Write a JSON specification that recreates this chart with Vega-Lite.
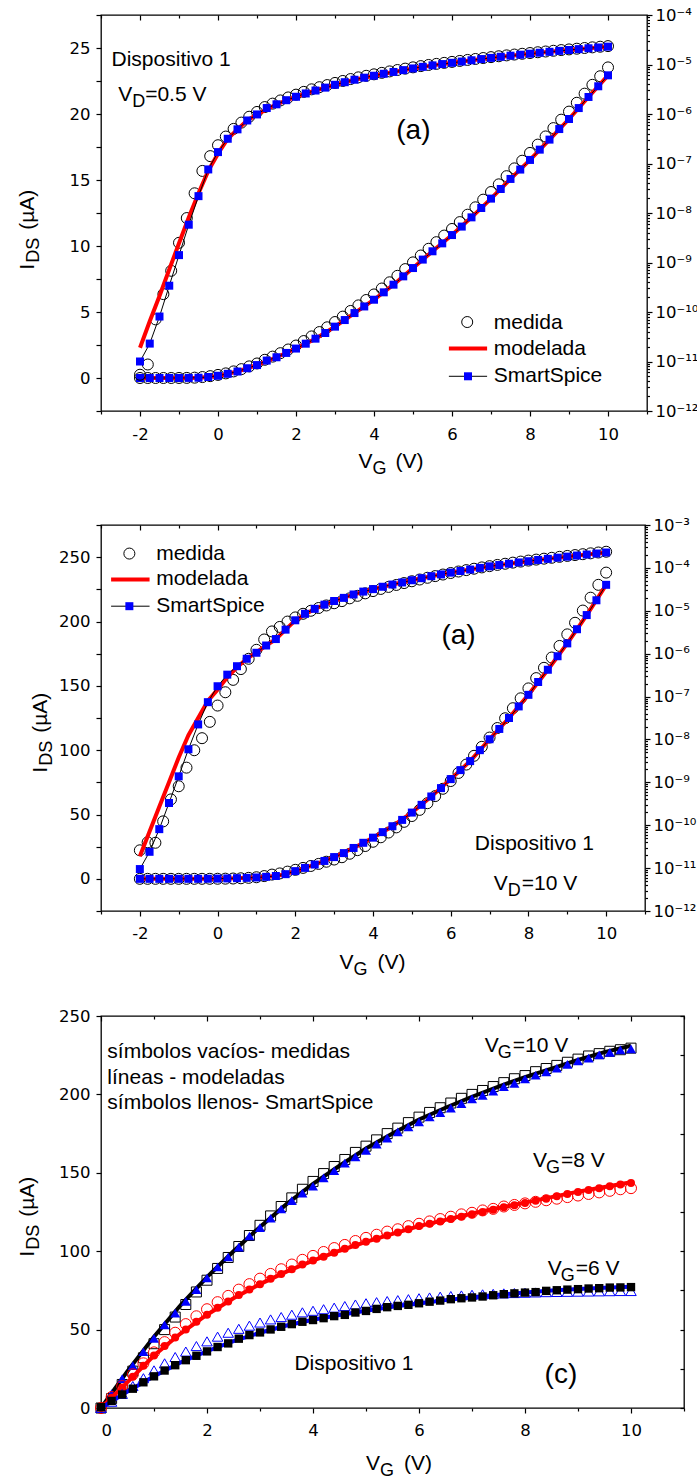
{
"$schema": "https://vega.github.io/schema/vega-lite/v6.json",
"padding": 0,
"config": {
  "view": {"stroke": "#000", "strokeWidth": 1.3},
  "axis": {"domain": false, "grid": false, "labelFont": "DejaVu Sans", "labelFontSize": 16.5, "labelColor": "#000", "tickColor": "#000", "tickWidth": 1.2, "labelOverlap": false},
  "text": {"font": "Liberation Sans", "color": "#000"}
},
"datasets": {
"p1_ss": [{"V":-2,"I":0.00001},{"V":-1.75,"I":0.000023},{"V":-1.5,"I":0.000081},{"V":-1.25,"I":0.00034},{"V":-1,"I":0.00141},{"V":-0.75,"I":0.0058},{"V":-0.5,"I":0.0219},{"V":-0.25,"I":0.0759},{"V":0,"I":0.17},{"V":0.25,"I":0.316},{"V":0.5,"I":0.49},{"V":0.75,"I":0.74},{"V":1,"I":0.98},{"V":1.25,"I":1.32},{"V":1.5,"I":1.57},{"V":1.75,"I":1.9},{"V":2,"I":2.23},{"V":2.25,"I":2.6},{"V":2.5,"I":2.98},{"V":2.75,"I":3.41},{"V":3,"I":3.89},{"V":3.25,"I":4.39},{"V":3.5,"I":4.92},{"V":3.75,"I":5.42},{"V":4,"I":5.93},{"V":4.25,"I":6.49},{"V":4.5,"I":7.07},{"V":4.75,"I":7.7},{"V":5,"I":8.33},{"V":5.25,"I":8.97},{"V":5.5,"I":9.6},{"V":5.75,"I":10.2},{"V":6,"I":10.83},{"V":6.25,"I":11.47},{"V":6.5,"I":12.17},{"V":6.75,"I":12.88},{"V":7,"I":13.59},{"V":7.25,"I":14.32},{"V":7.5,"I":15.08},{"V":7.75,"I":15.79},{"V":8,"I":16.52},{"V":8.25,"I":17.3},{"V":8.5,"I":18.06},{"V":8.75,"I":18.86},{"V":9,"I":19.62},{"V":9.25,"I":20.45},{"V":9.5,"I":21.29},{"V":9.75,"I":22.1},{"V":10,"I":22.93}],
"p1_mod": [{"V":-2,"I":0.000019},{"V":-1.75,"I":0.000065},{"V":-1.5,"I":0.00021},{"V":-1.25,"I":0.00072},{"V":-1,"I":0.00245},{"V":-0.75,"I":0.0081},{"V":-0.5,"I":0.025},{"V":-0.25,"I":0.071},{"V":0,"I":0.158},{"V":0.25,"I":0.316},{"V":0.5,"I":0.49},{"V":0.75,"I":0.74},{"V":1,"I":0.98},{"V":1.5,"I":1.57},{"V":2,"I":2.23},{"V":2.5,"I":2.98},{"V":3,"I":3.89},{"V":3.5,"I":4.92},{"V":4,"I":5.93},{"V":4.5,"I":7.07},{"V":5,"I":8.33},{"V":5.5,"I":9.6},{"V":6,"I":10.83},{"V":6.5,"I":12.17},{"V":7,"I":13.59},{"V":7.5,"I":15.08},{"V":8,"I":16.52},{"V":8.5,"I":18.06},{"V":9,"I":19.62},{"V":9.5,"I":21.29},{"V":10,"I":22.93}],
"p1_med": [{"V":-2,"I":0.0000054},{"V":-1.8,"I":0.0000087},{"V":-1.6,"I":0.000071},{"V":-1.4,"I":0.00023},{"V":-1.2,"I":0.00068},{"V":-1,"I":0.0025},{"V":-0.8,"I":0.0079},{"V":-0.6,"I":0.025},{"V":-0.4,"I":0.0708},{"V":-0.2,"I":0.141},{"V":0,"I":0.234},{"V":0.2,"I":0.35},{"V":0.4,"I":0.5},{"V":0.6,"I":0.67},{"V":0.8,"I":0.88},{"V":1,"I":1.1},{"V":1.2,"I":1.38},{"V":1.4,"I":1.62},{"V":1.6,"I":1.88},{"V":1.8,"I":2.16},{"V":2,"I":2.46},{"V":2.2,"I":2.8},{"V":2.4,"I":3.15},{"V":2.6,"I":3.48},{"V":2.8,"I":3.84},{"V":3,"I":4.24},{"V":3.2,"I":4.65},{"V":3.4,"I":5.08},{"V":3.6,"I":5.5},{"V":3.8,"I":5.91},{"V":4,"I":6.33},{"V":4.2,"I":6.78},{"V":4.4,"I":7.25},{"V":4.6,"I":7.74},{"V":4.8,"I":8.25},{"V":5,"I":8.76},{"V":5.2,"I":9.28},{"V":5.4,"I":9.79},{"V":5.6,"I":10.29},{"V":5.8,"I":10.79},{"V":6,"I":11.29},{"V":6.2,"I":11.81},{"V":6.4,"I":12.37},{"V":6.6,"I":12.93},{"V":6.8,"I":13.51},{"V":7,"I":14.09},{"V":7.2,"I":14.67},{"V":7.4,"I":15.29},{"V":7.6,"I":15.88},{"V":7.8,"I":16.46},{"V":8,"I":17.05},{"V":8.2,"I":17.68},{"V":8.4,"I":18.3},{"V":8.6,"I":18.93},{"V":8.8,"I":19.57},{"V":9,"I":20.18},{"V":9.2,"I":20.85},{"V":9.4,"I":21.54},{"V":9.6,"I":22.21},{"V":9.8,"I":22.86},{"V":10,"I":23.53}],
"p2_ss": [{"V":-2,"I":0.0000095},{"V":-1.75,"I":0.000024},{"V":-1.5,"I":0.000081},{"V":-1.25,"I":0.00033},{"V":-1,"I":0.00138},{"V":-0.75,"I":0.0059},{"V":-0.5,"I":0.0224},{"V":-0.25,"I":0.074},{"V":0,"I":0.174},{"V":0.25,"I":0.324},{"V":0.5,"I":0.51},{"V":0.75,"I":0.76},{"V":1,"I":1.05},{"V":1.25,"I":1.55},{"V":1.5,"I":2.19},{"V":1.75,"I":3.63},{"V":2,"I":6},{"V":2.25,"I":8.5},{"V":2.5,"I":11.1},{"V":2.75,"I":13.9},{"V":3,"I":16.9},{"V":3.25,"I":20},{"V":3.5,"I":24},{"V":3.75,"I":28},{"V":4,"I":32},{"V":4.25,"I":36.3},{"V":4.5,"I":40.9},{"V":4.75,"I":45.8},{"V":5,"I":51.5},{"V":5.25,"I":57.5},{"V":5.5,"I":64},{"V":5.75,"I":70.5},{"V":6,"I":77.5},{"V":6.25,"I":84.5},{"V":6.5,"I":91.5},{"V":6.75,"I":100},{"V":7,"I":108.5},{"V":7.25,"I":116.5},{"V":7.5,"I":125},{"V":7.75,"I":134},{"V":8,"I":143},{"V":8.25,"I":153},{"V":8.5,"I":162.5},{"V":8.75,"I":173},{"V":9,"I":183},{"V":9.25,"I":194},{"V":9.5,"I":205},{"V":9.75,"I":216.5},{"V":10,"I":228.5}],
"p2_mod": [{"V":-2,"I":0.000019},{"V":-1.75,"I":0.000071},{"V":-1.5,"I":0.00027},{"V":-1.25,"I":0.001},{"V":-1,"I":0.0038},{"V":-0.75,"I":0.0126},{"V":-0.5,"I":0.0316},{"V":-0.25,"I":0.079},{"V":0,"I":0.145},{"V":0.25,"I":0.28},{"V":0.5,"I":0.48},{"V":0.75,"I":0.76},{"V":1,"I":1.07},{"V":1.25,"I":1.55},{"V":1.5,"I":2.19},{"V":1.75,"I":3.63},{"V":2,"I":6},{"V":2.5,"I":11.1},{"V":3,"I":16.9},{"V":3.5,"I":24},{"V":4,"I":32},{"V":4.5,"I":40.9},{"V":5,"I":51.5},{"V":5.5,"I":64},{"V":6,"I":77.5},{"V":6.5,"I":91.5},{"V":7,"I":108.5},{"V":7.5,"I":125},{"V":8,"I":143},{"V":8.5,"I":162.5},{"V":9,"I":183},{"V":9.5,"I":205},{"V":10,"I":228.5}],
"p2_med": [{"V":-2,"I":0.000026},{"V":-1.8,"I":0.00004},{"V":-1.6,"I":0.000039},{"V":-1.4,"I":0.000123},{"V":-1.2,"I":0.0004},{"V":-1,"I":0.00081},{"V":-0.8,"I":0.0022},{"V":-0.6,"I":0.0056},{"V":-0.4,"I":0.0107},{"V":-0.2,"I":0.0257},{"V":0,"I":0.0617},{"V":0.2,"I":0.126},{"V":0.4,"I":0.245},{"V":0.6,"I":0.437},{"V":0.8,"I":0.76},{"V":1,"I":1.23},{"V":1.2,"I":2.14},{"V":1.4,"I":3.3},{"V":1.6,"I":4.2},{"V":1.8,"I":5.6},{"V":2,"I":7},{"V":2.2,"I":8.5},{"V":2.4,"I":10},{"V":2.6,"I":11.6},{"V":2.8,"I":13.3},{"V":3,"I":15},{"V":3.2,"I":16.8},{"V":3.4,"I":19.5},{"V":3.6,"I":22.3},{"V":3.8,"I":25.5},{"V":4,"I":28.8},{"V":4.2,"I":32.3},{"V":4.4,"I":36},{"V":4.6,"I":40},{"V":4.8,"I":44.3},{"V":5,"I":48.8},{"V":5.2,"I":53.6},{"V":5.4,"I":58.8},{"V":5.6,"I":64.3},{"V":5.8,"I":70},{"V":6,"I":76},{"V":6.2,"I":82.3},{"V":6.4,"I":88.8},{"V":6.6,"I":95.6},{"V":6.8,"I":102.6},{"V":7,"I":109.8},{"V":7.2,"I":117.2},{"V":7.4,"I":124.8},{"V":7.6,"I":132.6},{"V":7.8,"I":140.3},{"V":8,"I":148},{"V":8.2,"I":156},{"V":8.4,"I":164},{"V":8.6,"I":172},{"V":8.8,"I":181},{"V":9,"I":190},{"V":9.2,"I":199},{"V":9.4,"I":208.5},{"V":9.6,"I":218.5},{"V":9.8,"I":228.5},{"V":10,"I":238}],
"p3_ss10": [{"V":0,"I":0.5},{"V":0.2,"I":9.2},{"V":0.4,"I":18.7},{"V":0.6,"I":27},{"V":0.8,"I":35.9},{"V":1,"I":44.4},{"V":1.2,"I":53},{"V":1.4,"I":60.5},{"V":1.6,"I":68},{"V":1.8,"I":75.4},{"V":2,"I":82.9},{"V":2.2,"I":89.9},{"V":2.4,"I":96.3},{"V":2.6,"I":102.6},{"V":2.8,"I":109.7},{"V":3,"I":115},{"V":3.2,"I":121},{"V":3.4,"I":126.9},{"V":3.6,"I":132.3},{"V":3.8,"I":137},{"V":4,"I":141.4},{"V":4.2,"I":146.8},{"V":4.4,"I":151.3},{"V":4.6,"I":156.2},{"V":4.8,"I":160.2},{"V":5,"I":164.2},{"V":5.2,"I":168.3},{"V":5.4,"I":172.1},{"V":5.6,"I":176.1},{"V":5.8,"I":179.2},{"V":6,"I":182.4},{"V":6.2,"I":185.6},{"V":6.4,"I":188.4},{"V":6.6,"I":191.2},{"V":6.8,"I":194.1},{"V":7,"I":197.1},{"V":7.2,"I":199.4},{"V":7.4,"I":202.1},{"V":7.6,"I":205},{"V":7.8,"I":207},{"V":8,"I":209.8},{"V":8.2,"I":212.2},{"V":8.4,"I":214.4},{"V":8.6,"I":216.7},{"V":8.8,"I":219.1},{"V":9,"I":221.3},{"V":9.2,"I":223.1},{"V":9.4,"I":225.2},{"V":9.6,"I":226.8},{"V":9.8,"I":228.4},{"V":10,"I":229}],
"p3_med10": [{"V":0,"I":0},{"V":0.2,"I":6},{"V":0.4,"I":15},{"V":0.6,"I":23.5},{"V":0.8,"I":32},{"V":1,"I":41},{"V":1.2,"I":50},{"V":1.4,"I":58},{"V":1.6,"I":66},{"V":1.8,"I":74},{"V":2,"I":81.5},{"V":2.2,"I":89},{"V":2.4,"I":96},{"V":2.6,"I":103},{"V":2.8,"I":110},{"V":3,"I":116.5},{"V":3.2,"I":122.5},{"V":3.4,"I":128.5},{"V":3.6,"I":134},{"V":3.8,"I":139.5},{"V":4,"I":144.5},{"V":4.2,"I":149.5},{"V":4.4,"I":154},{"V":4.6,"I":158.5},{"V":4.8,"I":163},{"V":5,"I":167},{"V":5.2,"I":171},{"V":5.4,"I":175},{"V":5.6,"I":178.5},{"V":5.8,"I":182},{"V":6,"I":185.5},{"V":6.2,"I":188.5},{"V":6.4,"I":191.5},{"V":6.6,"I":194.5},{"V":6.8,"I":197.5},{"V":7,"I":200},{"V":7.2,"I":202.5},{"V":7.4,"I":205},{"V":7.6,"I":207.5},{"V":7.8,"I":210},{"V":8,"I":212},{"V":8.2,"I":214.5},{"V":8.4,"I":216.5},{"V":8.6,"I":218.5},{"V":8.8,"I":220.5},{"V":9,"I":222.5},{"V":9.2,"I":224.5},{"V":9.4,"I":226},{"V":9.6,"I":227.5},{"V":9.8,"I":228.5},{"V":10,"I":229.5}],
"p3_mod10": [{"V":0,"I":0},{"V":0.5,"I":23.5},{"V":1,"I":45.5},{"V":1.5,"I":65.5},{"V":2,"I":83.5},{"V":2.5,"I":100},{"V":3,"I":115.5},{"V":3.5,"I":130},{"V":4,"I":143},{"V":4.5,"I":154.5},{"V":5,"I":165.5},{"V":5.5,"I":175},{"V":6,"I":184},{"V":6.5,"I":191.5},{"V":7,"I":198.5},{"V":7.5,"I":205},{"V":8,"I":211},{"V":8.5,"I":216.5},{"V":9,"I":222},{"V":9.5,"I":227},{"V":10,"I":231}],
"p3_ss8": [{"V":0,"I":0},{"V":0.2,"I":6.5},{"V":0.4,"I":13},{"V":0.6,"I":20},{"V":0.8,"I":27},{"V":1,"I":33.5},{"V":1.2,"I":39.5},{"V":1.4,"I":45},{"V":1.6,"I":50},{"V":1.8,"I":55},{"V":2,"I":59.5},{"V":2.2,"I":64},{"V":2.4,"I":68},{"V":2.6,"I":72},{"V":2.8,"I":75.5},{"V":3,"I":79},{"V":3.2,"I":82.5},{"V":3.4,"I":85.5},{"V":3.6,"I":88.5},{"V":3.8,"I":91.5},{"V":4,"I":94},{"V":4.2,"I":96.5},{"V":4.4,"I":99},{"V":4.6,"I":101.5},{"V":4.8,"I":104},{"V":5,"I":106},{"V":5.2,"I":108},{"V":5.4,"I":110},{"V":5.6,"I":112},{"V":5.8,"I":114},{"V":6,"I":116},{"V":6.2,"I":117.5},{"V":6.4,"I":119},{"V":6.6,"I":120.5},{"V":6.8,"I":122},{"V":7,"I":123.5},{"V":7.2,"I":125},{"V":7.4,"I":126.5},{"V":7.6,"I":128},{"V":7.8,"I":129.3},{"V":8,"I":130.7},{"V":8.2,"I":132.1},{"V":8.4,"I":133.5},{"V":8.6,"I":135},{"V":8.8,"I":136.4},{"V":9,"I":137.8},{"V":9.2,"I":139},{"V":9.4,"I":140.2},{"V":9.6,"I":141.4},{"V":9.8,"I":142.5},{"V":10,"I":143.5}],
"p3_med8": [{"V":0,"I":0},{"V":0.2,"I":7},{"V":0.4,"I":14},{"V":0.6,"I":21.5},{"V":0.8,"I":28.5},{"V":1,"I":35.5},{"V":1.2,"I":42},{"V":1.4,"I":48},{"V":1.6,"I":53.5},{"V":1.8,"I":58.5},{"V":2,"I":63},{"V":2.2,"I":67.5},{"V":2.4,"I":71.5},{"V":2.6,"I":75.5},{"V":2.8,"I":79},{"V":3,"I":82.5},{"V":3.2,"I":85.5},{"V":3.4,"I":88.5},{"V":3.6,"I":91.5},{"V":3.8,"I":94.5},{"V":4,"I":97},{"V":4.2,"I":99.5},{"V":4.4,"I":102},{"V":4.6,"I":104},{"V":4.8,"I":106.5},{"V":5,"I":108.5},{"V":5.2,"I":110.5},{"V":5.4,"I":112.5},{"V":5.6,"I":114},{"V":5.8,"I":116},{"V":6,"I":117.5},{"V":6.2,"I":119},{"V":6.4,"I":120.5},{"V":6.6,"I":122},{"V":6.8,"I":123.5},{"V":7,"I":124.5},{"V":7.2,"I":126},{"V":7.4,"I":127},{"V":7.6,"I":128.5},{"V":7.8,"I":129.5},{"V":8,"I":130.5},{"V":8.2,"I":131.5},{"V":8.4,"I":132.5},{"V":8.6,"I":133.5},{"V":8.8,"I":134.5},{"V":9,"I":135.5},{"V":9.2,"I":136.5},{"V":9.4,"I":137.5},{"V":9.6,"I":138.5},{"V":9.8,"I":139.5},{"V":10,"I":140.2}],
"p3_mod8": [{"V":0,"I":0},{"V":0.5,"I":16.5},{"V":1,"I":33.5},{"V":1.5,"I":47.5},{"V":2,"I":59.5},{"V":2.5,"I":70},{"V":3,"I":79},{"V":3.5,"I":87},{"V":4,"I":94},{"V":4.5,"I":100.3},{"V":5,"I":106},{"V":5.5,"I":111},{"V":6,"I":116},{"V":6.5,"I":120},{"V":7,"I":124},{"V":7.5,"I":127.5},{"V":8,"I":131},{"V":8.5,"I":134.5},{"V":9,"I":138},{"V":9.5,"I":141},{"V":10,"I":144}],
"p3_ss6": [{"V":0,"I":0.5},{"V":0.2,"I":4.5},{"V":0.4,"I":8.6},{"V":0.6,"I":12.3},{"V":0.8,"I":16.4},{"V":1,"I":20.2},{"V":1.2,"I":23.9},{"V":1.4,"I":27.3},{"V":1.6,"I":30.5},{"V":1.8,"I":33.3},{"V":2,"I":36.1},{"V":2.2,"I":38.9},{"V":2.4,"I":41.2},{"V":2.6,"I":44.2},{"V":2.8,"I":46.5},{"V":3,"I":48.2},{"V":3.2,"I":50.1},{"V":3.4,"I":51.8},{"V":3.6,"I":53.5},{"V":3.8,"I":55},{"V":4,"I":56.1},{"V":4.2,"I":57.3},{"V":4.4,"I":58.6},{"V":4.6,"I":59.4},{"V":4.8,"I":60.9},{"V":5,"I":61.9},{"V":5.2,"I":63.2},{"V":5.4,"I":64.3},{"V":5.6,"I":65.1},{"V":5.8,"I":65.8},{"V":6,"I":66.8},{"V":6.2,"I":67.8},{"V":6.4,"I":68.5},{"V":6.6,"I":69.4},{"V":6.8,"I":70},{"V":7,"I":70.5},{"V":7.2,"I":71.1},{"V":7.4,"I":71.9},{"V":7.6,"I":72.6},{"V":7.8,"I":73.1},{"V":8,"I":73.6},{"V":8.2,"I":73.9},{"V":8.4,"I":74.7},{"V":8.6,"I":75.1},{"V":8.8,"I":75.5},{"V":9,"I":75.8},{"V":9.2,"I":76.2},{"V":9.4,"I":76.4},{"V":9.6,"I":76.8},{"V":9.8,"I":76.9},{"V":10,"I":77.1}],
"p3_med6": [{"V":0,"I":0},{"V":0.2,"I":4},{"V":0.4,"I":9},{"V":0.6,"I":14},{"V":0.8,"I":19},{"V":1,"I":24},{"V":1.2,"I":28.5},{"V":1.4,"I":32.5},{"V":1.6,"I":36},{"V":1.8,"I":39.5},{"V":2,"I":42.5},{"V":2.2,"I":45.5},{"V":2.4,"I":48},{"V":2.6,"I":50.5},{"V":2.8,"I":52.5},{"V":3,"I":54.5},{"V":3.2,"I":56.5},{"V":3.4,"I":58},{"V":3.6,"I":59.5},{"V":3.8,"I":61},{"V":4,"I":62},{"V":4.2,"I":63},{"V":4.4,"I":64},{"V":4.6,"I":65},{"V":4.8,"I":66},{"V":5,"I":66.8},{"V":5.2,"I":67.5},{"V":5.4,"I":68.2},{"V":5.6,"I":68.8},{"V":5.8,"I":69.4},{"V":6,"I":70},{"V":6.2,"I":70.5},{"V":6.4,"I":71},{"V":6.6,"I":71.4},{"V":6.8,"I":71.8},{"V":7,"I":72.2},{"V":7.2,"I":72.5},{"V":7.4,"I":72.8},{"V":7.6,"I":73.1},{"V":7.8,"I":73.3},{"V":8,"I":73.5},{"V":8.2,"I":73.7},{"V":8.4,"I":73.9},{"V":8.6,"I":74},{"V":8.8,"I":74.1},{"V":9,"I":74.2},{"V":9.2,"I":74.3},{"V":9.4,"I":74.4},{"V":9.6,"I":74.5},{"V":9.8,"I":74.6},{"V":10,"I":74.6}],
"p3_mod6": [{"V":0,"I":0},{"V":0.5,"I":10.5},{"V":1,"I":20.2},{"V":1.5,"I":29},{"V":2,"I":36.2},{"V":2.5,"I":42.6},{"V":3,"I":48},{"V":3.5,"I":52.6},{"V":4,"I":56.3},{"V":4.5,"I":59.3},{"V":5,"I":62},{"V":5.5,"I":64.5},{"V":6,"I":66.7},{"V":6.5,"I":68.8},{"V":7,"I":70.6},{"V":7.5,"I":72.2},{"V":8,"I":73.6},{"V":8.5,"I":74.9},{"V":9,"I":75.9},{"V":9.5,"I":76.7},{"V":10,"I":77.3}]
},
"spacing": 0,
"vconcat": [
{
"width": 546, "height": 396,
"layer": [
{
"encoding": {
  "x": {"field": "V", "type": "quantitative", "scale": {"domain": [-3, 11], "nice": false, "zero": false},
        "axis": {"orient": "bottom", "title": null, "minExtent": 80, "values": [-3,-2,-1,0,1,2,3,4,5,6,7,8,9,10,11], "labelExpr": "datum.value % 2 == 0 ? (datum.value < 0 ? '-' + (-datum.value) : '' + datum.value) : ''", "tickSize": {"condition": {"test": "datum.value % 2 == 0", "value": 5}, "value": 3}, "labelPadding": 10}},
  "y": {"field": "I", "type": "quantitative", "scale": {"domain": [-2.5, 27.5], "nice": false, "zero": false},
        "axis": {"orient": "left", "title": null, "minExtent": 100, "values": [-2.5,0,2.5,5,7.5,10,12.5,15,17.5,20,22.5,25,27.5], "labelExpr": "datum.value % 5 == 0 ? '' + datum.value : ''", "tickSize": 5, "labelPadding": 6}}
},
"layer": [
  {"data": {"name": "p1_med"}, "mark": {"type": "point", "shape": "circle", "filled": false, "size": 121, "color": "#000", "strokeWidth": 1, "opacity": 1}},
  {"data": {"name": "p1_mod"}, "mark": {"type": "line", "color": "#ff0000", "strokeWidth": 4}, "encoding": {}},
  {"data": {"name": "p1_ss"}, "mark": {"type": "line", "color": "#000", "strokeWidth": 1}, "encoding": {}},
  {"data": {"name": "p1_ss"}, "mark": {"type": "point", "shape": "square", "filled": true, "size": 64, "color": "#0000ff", "opacity": 1}}
]
},
{
"layer": [
  {"data": {"values": [{}]}, "mark": {"type": "text", "align": "left", "baseline": "alphabetic", "fontSize": 21, "text": "Dispositivo 1"}, "encoding": {"x": {"datum": -2.73, "scale": {"domain": [-3, 11], "nice": false, "zero": false}, "axis": null}, "y": {"datum": 23.61, "scale": {"domain": [-2.5, 27.5], "nice": false, "zero": false}, "axis": null}}},
  {"data": {"values": [{}]}, "mark": {"type": "text", "align": "left", "baseline": "alphabetic", "fontSize": 21, "text": "V"}, "encoding": {"x": {"datum": -2.56, "scale": {"domain": [-3, 11], "nice": false, "zero": false}, "axis": null}, "y": {"datum": 20.96, "scale": {"domain": [-2.5, 27.5], "nice": false, "zero": false}, "axis": null}}},
  {"data": {"values": [{}]}, "mark": {"type": "text", "align": "left", "baseline": "alphabetic", "fontSize": 18, "dx": 14, "dy": 6, "text": "D"}, "encoding": {"x": {"datum": -2.56, "scale": {"domain": [-3, 11], "nice": false, "zero": false}, "axis": null}, "y": {"datum": 20.96, "scale": {"domain": [-2.5, 27.5], "nice": false, "zero": false}, "axis": null}}},
  {"data": {"values": [{}]}, "mark": {"type": "text", "align": "left", "baseline": "alphabetic", "fontSize": 21, "dx": 27, "text": "=0.5 V"}, "encoding": {"x": {"datum": -2.56, "scale": {"domain": [-3, 11], "nice": false, "zero": false}, "axis": null}, "y": {"datum": 20.96, "scale": {"domain": [-2.5, 27.5], "nice": false, "zero": false}, "axis": null}}},
  {"data": {"values": [{}]}, "mark": {"type": "text", "align": "left", "baseline": "alphabetic", "fontSize": 28, "text": "(a)"}, "encoding": {"x": {"datum": 4.57, "scale": {"domain": [-3, 11], "nice": false, "zero": false}, "axis": null}, "y": {"datum": 18.08, "scale": {"domain": [-2.5, 27.5], "nice": false, "zero": false}, "axis": null}}},
  {"data": {"values": [{}]}, "mark": {"type": "point", "shape": "circle", "filled": false, "size": 121, "color": "#000", "strokeWidth": 1, "opacity": 1}, "encoding": {"x": {"datum": 6.39, "scale": {"domain": [-3, 11], "nice": false, "zero": false}, "axis": null}, "y": {"datum": 4.24, "scale": {"domain": [-2.5, 27.5], "nice": false, "zero": false}, "axis": null}}},
  {"data": {"values": [{}]}, "mark": {"type": "text", "align": "left", "baseline": "alphabetic", "fontSize": 21, "text": "medida"}, "encoding": {"x": {"datum": 7.07, "scale": {"domain": [-3, 11], "nice": false, "zero": false}, "axis": null}, "y": {"datum": 3.69, "scale": {"domain": [-2.5, 27.5], "nice": false, "zero": false}, "axis": null}}},
  {"data": {"values": [{}]}, "mark": {"type": "rule", "color": "#ff0000", "strokeWidth": 4}, "encoding": {"x": {"datum": 5.92, "scale": {"domain": [-3, 11], "nice": false, "zero": false}, "axis": null}, "x2": {"datum": 6.9}, "y": {"datum": 2.23, "scale": {"domain": [-2.5, 27.5], "nice": false, "zero": false}, "axis": null}}},
  {"data": {"values": [{}]}, "mark": {"type": "text", "align": "left", "baseline": "alphabetic", "fontSize": 21, "text": "modelada"}, "encoding": {"x": {"datum": 7.07, "scale": {"domain": [-3, 11], "nice": false, "zero": false}, "axis": null}, "y": {"datum": 1.72, "scale": {"domain": [-2.5, 27.5], "nice": false, "zero": false}, "axis": null}}},
  {"data": {"values": [{}]}, "mark": {"type": "rule", "color": "#000", "strokeWidth": 1}, "encoding": {"x": {"datum": 5.92, "scale": {"domain": [-3, 11], "nice": false, "zero": false}, "axis": null}, "x2": {"datum": 6.9}, "y": {"datum": 0.13, "scale": {"domain": [-2.5, 27.5], "nice": false, "zero": false}, "axis": null}}},
  {"data": {"values": [{}]}, "mark": {"type": "point", "shape": "square", "filled": true, "size": 64, "color": "#0000ff", "opacity": 1}, "encoding": {"x": {"datum": 6.41, "scale": {"domain": [-3, 11], "nice": false, "zero": false}, "axis": null}, "y": {"datum": 0.13, "scale": {"domain": [-2.5, 27.5], "nice": false, "zero": false}, "axis": null}}},
  {"data": {"values": [{}]}, "mark": {"type": "text", "align": "left", "baseline": "alphabetic", "fontSize": 21, "text": "SmartSpice"}, "encoding": {"x": {"datum": 7.07, "scale": {"domain": [-3, 11], "nice": false, "zero": false}, "axis": null}, "y": {"datum": -0.33, "scale": {"domain": [-2.5, 27.5], "nice": false, "zero": false}, "axis": null}}},
  {"data": {"values": [{}]}, "mark": {"type": "text", "align": "left", "baseline": "alphabetic", "fontSize": 21, "text": "V"}, "encoding": {"x": {"datum": 3.6, "scale": {"domain": [-3, 11], "nice": false, "zero": false}, "axis": null}, "y": {"datum": -6.84, "scale": {"domain": [-2.5, 27.5], "nice": false, "zero": false}, "axis": null}}},
  {"data": {"values": [{}]}, "mark": {"type": "text", "align": "left", "baseline": "alphabetic", "fontSize": 18, "dx": 14, "dy": 6, "text": "G"}, "encoding": {"x": {"datum": 3.6, "scale": {"domain": [-3, 11], "nice": false, "zero": false}, "axis": null}, "y": {"datum": -6.84, "scale": {"domain": [-2.5, 27.5], "nice": false, "zero": false}, "axis": null}}},
  {"data": {"values": [{}]}, "mark": {"type": "text", "align": "left", "baseline": "alphabetic", "fontSize": 21, "dx": 37, "text": "(V)"}, "encoding": {"x": {"datum": 3.6, "scale": {"domain": [-3, 11], "nice": false, "zero": false}, "axis": null}, "y": {"datum": -6.84, "scale": {"domain": [-2.5, 27.5], "nice": false, "zero": false}, "axis": null}}},
  {"data": {"values": [{}]}, "mark": {"type": "text", "angle": 270, "align": "left", "baseline": "alphabetic", "fontSize": 21, "text": "I"}, "encoding": {"x": {"datum": -4.72, "scale": {"domain": [-3, 11], "nice": false, "zero": false}, "axis": null}, "y": {"datum": 8.2, "scale": {"domain": [-2.5, 27.5], "nice": false, "zero": false}, "axis": null}}},
  {"data": {"values": [{}]}, "mark": {"type": "text", "angle": 270, "align": "left", "baseline": "alphabetic", "fontSize": 18, "dx": 7, "dy": 5, "text": "DS"}, "encoding": {"x": {"datum": -4.72, "scale": {"domain": [-3, 11], "nice": false, "zero": false}, "axis": null}, "y": {"datum": 8.2, "scale": {"domain": [-2.5, 27.5], "nice": false, "zero": false}, "axis": null}}},
  {"data": {"values": [{}]}, "mark": {"type": "text", "angle": 270, "align": "left", "baseline": "alphabetic", "fontSize": 21, "dx": 40, "text": "(µA)"}, "encoding": {"x": {"datum": -4.72, "scale": {"domain": [-3, 11], "nice": false, "zero": false}, "axis": null}, "y": {"datum": 8.2, "scale": {"domain": [-2.5, 27.5], "nice": false, "zero": false}, "axis": null}}}
]
},
{
"encoding": {
  "x": {"field": "V", "type": "quantitative", "scale": {"domain": [-3, 11], "nice": false, "zero": false},
        "axis": {"orient": "top", "title": null, "labels": false, "minExtent": 14, "values": [-3,-2,-1,0,1,2,3,4,5,6,7,8,9,10,11], "tickSize": {"condition": {"test": "datum.value % 2 == 0", "value": -5}, "value": -3}}},
  "y": {"field": "I", "type": "quantitative", "scale": {"type": "log", "domain": [0.000001, 100], "nice": false},
        "axis": {"orient": "right", "title": null, "tickCount": 40, "labelPadding": 3, "labelExpr": "abs(log(datum.value)/LN10 - round(log(datum.value)/LN10)) < 0.001 ? '10⁻' + (6 - round(log(datum.value)/LN10) >= 10 ? '¹' + ['⁰','¹','²'][6 - round(log(datum.value)/LN10) - 10] : ['⁰','¹','²','³','⁴','⁵','⁶','⁷','⁸','⁹'][6 - round(log(datum.value)/LN10)]) : ''", "tickSize": {"condition": {"test": "abs(log(datum.value)/LN10 - round(log(datum.value)/LN10)) < 0.001", "value": 5}, "value": 2.5}}}
},
"layer": [
  {"data": {"name": "p1_med"}, "mark": {"type": "point", "shape": "circle", "filled": false, "size": 121, "color": "#000", "strokeWidth": 1, "opacity": 1}},
  {"data": {"name": "p1_mod"}, "mark": {"type": "line", "color": "#ff0000", "strokeWidth": 4}, "encoding": {}},
  {"data": {"name": "p1_ss"}, "mark": {"type": "line", "color": "#000", "strokeWidth": 1}, "encoding": {}},
  {"data": {"name": "p1_ss"}, "mark": {"type": "point", "shape": "square", "filled": true, "size": 64, "color": "#0000ff", "opacity": 1}}
]
}
],
"resolve": {"scale": {"x": "independent", "y": "independent"}}
},
{
"width": 544, "height": 386,
"layer": [
{
"encoding": {
  "x": {"field": "V", "type": "quantitative", "scale": {"domain": [-3, 11], "nice": false, "zero": false},
        "axis": {"orient": "bottom", "title": null, "minExtent": 80, "values": [-3,-2,-1,0,1,2,3,4,5,6,7,8,9,10,11], "labelExpr": "datum.value % 2 == 0 ? (datum.value < 0 ? '-' + (-datum.value) : '' + datum.value) : ''", "tickSize": {"condition": {"test": "datum.value % 2 == 0", "value": 5}, "value": 3}, "labelPadding": 9}},
  "y": {"field": "I", "type": "quantitative", "scale": {"domain": [-25, 275], "nice": false, "zero": false},
        "axis": {"orient": "left", "title": null, "minExtent": 100, "values": [-25,0,25,50,75,100,125,150,175,200,225,250,275], "labelExpr": "datum.value % 50 == 0 ? '' + datum.value : ''", "tickSize": 5, "labelPadding": 6}}
},
"layer": [
  {"data": {"name": "p2_med"}, "mark": {"type": "point", "shape": "circle", "filled": false, "size": 121, "color": "#000", "strokeWidth": 1, "opacity": 1}},
  {"data": {"name": "p2_mod"}, "mark": {"type": "line", "color": "#ff0000", "strokeWidth": 4}, "encoding": {}},
  {"data": {"name": "p2_ss"}, "mark": {"type": "line", "color": "#000", "strokeWidth": 1}, "encoding": {}},
  {"data": {"name": "p2_ss"}, "mark": {"type": "point", "shape": "square", "filled": true, "size": 64, "color": "#0000ff", "opacity": 1}}
]
},
{
"layer": [
  {"data": {"values": [{}]}, "mark": {"type": "point", "shape": "circle", "filled": false, "size": 121, "color": "#000", "strokeWidth": 1, "opacity": 1}, "encoding": {"x": {"datum": -2.27, "scale": {"domain": [-3, 11], "nice": false, "zero": false}, "axis": null}, "y": {"datum": 252.8, "scale": {"domain": [-25, 275], "nice": false, "zero": false}, "axis": null}}},
  {"data": {"values": [{}]}, "mark": {"type": "text", "align": "left", "baseline": "alphabetic", "fontSize": 21, "text": "medida"}, "encoding": {"x": {"datum": -1.58, "scale": {"domain": [-3, 11], "nice": false, "zero": false}, "axis": null}, "y": {"datum": 248, "scale": {"domain": [-25, 275], "nice": false, "zero": false}, "axis": null}}},
  {"data": {"values": [{}]}, "mark": {"type": "rule", "color": "#ff0000", "strokeWidth": 4}, "encoding": {"x": {"datum": -2.74, "scale": {"domain": [-3, 11], "nice": false, "zero": false}, "axis": null}, "x2": {"datum": -1.75}, "y": {"datum": 232.6, "scale": {"domain": [-25, 275], "nice": false, "zero": false}, "axis": null}}},
  {"data": {"values": [{}]}, "mark": {"type": "text", "align": "left", "baseline": "alphabetic", "fontSize": 21, "text": "modelada"}, "encoding": {"x": {"datum": -1.58, "scale": {"domain": [-3, 11], "nice": false, "zero": false}, "axis": null}, "y": {"datum": 228, "scale": {"domain": [-25, 275], "nice": false, "zero": false}, "axis": null}}},
  {"data": {"values": [{}]}, "mark": {"type": "rule", "color": "#000", "strokeWidth": 1}, "encoding": {"x": {"datum": -2.74, "scale": {"domain": [-3, 11], "nice": false, "zero": false}, "axis": null}, "x2": {"datum": -1.75}, "y": {"datum": 211.9, "scale": {"domain": [-25, 275], "nice": false, "zero": false}, "axis": null}}},
  {"data": {"values": [{}]}, "mark": {"type": "point", "shape": "square", "filled": true, "size": 64, "color": "#0000ff", "opacity": 1}, "encoding": {"x": {"datum": -2.27, "scale": {"domain": [-3, 11], "nice": false, "zero": false}, "axis": null}, "y": {"datum": 211.9, "scale": {"domain": [-25, 275], "nice": false, "zero": false}, "axis": null}}},
  {"data": {"values": [{}]}, "mark": {"type": "text", "align": "left", "baseline": "alphabetic", "fontSize": 21, "text": "SmartSpice"}, "encoding": {"x": {"datum": -1.58, "scale": {"domain": [-3, 11], "nice": false, "zero": false}, "axis": null}, "y": {"datum": 207.5, "scale": {"domain": [-25, 275], "nice": false, "zero": false}, "axis": null}}},
  {"data": {"values": [{}]}, "mark": {"type": "text", "align": "left", "baseline": "alphabetic", "fontSize": 28, "text": "(a)"}, "encoding": {"x": {"datum": 5.76, "scale": {"domain": [-3, 11], "nice": false, "zero": false}, "axis": null}, "y": {"datum": 182.6, "scale": {"domain": [-25, 275], "nice": false, "zero": false}, "axis": null}}},
  {"data": {"values": [{}]}, "mark": {"type": "text", "align": "left", "baseline": "alphabetic", "fontSize": 21, "text": "Dispositivo 1"}, "encoding": {"x": {"datum": 6.62, "scale": {"domain": [-3, 11], "nice": false, "zero": false}, "axis": null}, "y": {"datum": 22.3, "scale": {"domain": [-25, 275], "nice": false, "zero": false}, "axis": null}}},
  {"data": {"values": [{}]}, "mark": {"type": "text", "align": "left", "baseline": "alphabetic", "fontSize": 21, "text": "V"}, "encoding": {"x": {"datum": 7.11, "scale": {"domain": [-3, 11], "nice": false, "zero": false}, "axis": null}, "y": {"datum": -8.3, "scale": {"domain": [-25, 275], "nice": false, "zero": false}, "axis": null}}},
  {"data": {"values": [{}]}, "mark": {"type": "text", "align": "left", "baseline": "alphabetic", "fontSize": 18, "dx": 14, "dy": 6, "text": "D"}, "encoding": {"x": {"datum": 7.11, "scale": {"domain": [-3, 11], "nice": false, "zero": false}, "axis": null}, "y": {"datum": -8.3, "scale": {"domain": [-25, 275], "nice": false, "zero": false}, "axis": null}}},
  {"data": {"values": [{}]}, "mark": {"type": "text", "align": "left", "baseline": "alphabetic", "fontSize": 21, "dx": 28, "text": "=10 V"}, "encoding": {"x": {"datum": 7.11, "scale": {"domain": [-3, 11], "nice": false, "zero": false}, "axis": null}, "y": {"datum": -8.3, "scale": {"domain": [-25, 275], "nice": false, "zero": false}, "axis": null}}},
  {"data": {"values": [{}]}, "mark": {"type": "text", "align": "left", "baseline": "alphabetic", "fontSize": 21, "text": "V"}, "encoding": {"x": {"datum": 3.14, "scale": {"domain": [-3, 11], "nice": false, "zero": false}, "axis": null}, "y": {"datum": -69.9, "scale": {"domain": [-25, 275], "nice": false, "zero": false}, "axis": null}}},
  {"data": {"values": [{}]}, "mark": {"type": "text", "align": "left", "baseline": "alphabetic", "fontSize": 18, "dx": 14, "dy": 6, "text": "G"}, "encoding": {"x": {"datum": 3.14, "scale": {"domain": [-3, 11], "nice": false, "zero": false}, "axis": null}, "y": {"datum": -69.9, "scale": {"domain": [-25, 275], "nice": false, "zero": false}, "axis": null}}},
  {"data": {"values": [{}]}, "mark": {"type": "text", "align": "left", "baseline": "alphabetic", "fontSize": 21, "dx": 38, "text": "(V)"}, "encoding": {"x": {"datum": 3.14, "scale": {"domain": [-3, 11], "nice": false, "zero": false}, "axis": null}, "y": {"datum": -69.9, "scale": {"domain": [-25, 275], "nice": false, "zero": false}, "axis": null}}},
  {"data": {"values": [{}]}, "mark": {"type": "text", "angle": 270, "align": "left", "baseline": "alphabetic", "fontSize": 21, "text": "I"}, "encoding": {"x": {"datum": -4.39, "scale": {"domain": [-3, 11], "nice": false, "zero": false}, "axis": null}, "y": {"datum": 82.4, "scale": {"domain": [-25, 275], "nice": false, "zero": false}, "axis": null}}},
  {"data": {"values": [{}]}, "mark": {"type": "text", "angle": 270, "align": "left", "baseline": "alphabetic", "fontSize": 18, "dx": 7, "dy": 5, "text": "DS"}, "encoding": {"x": {"datum": -4.39, "scale": {"domain": [-3, 11], "nice": false, "zero": false}, "axis": null}, "y": {"datum": 82.4, "scale": {"domain": [-25, 275], "nice": false, "zero": false}, "axis": null}}},
  {"data": {"values": [{}]}, "mark": {"type": "text", "angle": 270, "align": "left", "baseline": "alphabetic", "fontSize": 21, "dx": 40, "text": "(µA)"}, "encoding": {"x": {"datum": -4.39, "scale": {"domain": [-3, 11], "nice": false, "zero": false}, "axis": null}, "y": {"datum": 82.4, "scale": {"domain": [-25, 275], "nice": false, "zero": false}, "axis": null}}}
]
},
{
"encoding": {
  "x": {"field": "V", "type": "quantitative", "scale": {"domain": [-3, 11], "nice": false, "zero": false},
        "axis": {"orient": "top", "title": null, "labels": false, "minExtent": 32, "values": [-3,-2,-1,0,1,2,3,4,5,6,7,8,9,10,11], "tickSize": {"condition": {"test": "datum.value % 2 == 0", "value": -5}, "value": -3}}},
  "y": {"field": "I", "type": "quantitative", "scale": {"type": "log", "domain": [0.000001, 1000], "nice": false},
        "axis": {"orient": "right", "title": null, "tickCount": 40, "labelPadding": 3, "labelExpr": "abs(log(datum.value)/LN10 - round(log(datum.value)/LN10)) < 0.001 ? '10⁻' + (6 - round(log(datum.value)/LN10) >= 10 ? '¹' + ['⁰','¹','²'][6 - round(log(datum.value)/LN10) - 10] : ['⁰','¹','²','³','⁴','⁵','⁶','⁷','⁸','⁹'][6 - round(log(datum.value)/LN10)]) : ''", "tickSize": {"condition": {"test": "abs(log(datum.value)/LN10 - round(log(datum.value)/LN10)) < 0.001", "value": 5}, "value": 2.5}}}
},
"layer": [
  {"data": {"name": "p2_med"}, "mark": {"type": "point", "shape": "circle", "filled": false, "size": 121, "color": "#000", "strokeWidth": 1, "opacity": 1}},
  {"data": {"name": "p2_mod"}, "mark": {"type": "line", "color": "#ff0000", "strokeWidth": 4}, "encoding": {}},
  {"data": {"name": "p2_ss"}, "mark": {"type": "line", "color": "#000", "strokeWidth": 1}, "encoding": {}},
  {"data": {"name": "p2_ss"}, "mark": {"type": "point", "shape": "square", "filled": true, "size": 64, "color": "#0000ff", "opacity": 1}}
]
}
],
"resolve": {"scale": {"x": "independent", "y": "independent"}}
},
{
"width": 583, "height": 392,
"layer": [
{
"layer": [
  {"data": {"name": "p3_med10"}, "mark": {"type": "point", "shape": "square", "filled": false, "size": 100, "color": "#000", "strokeWidth": 1, "opacity": 1},
   "encoding": {
    "x": {"field": "V", "type": "quantitative", "scale": {"domain": [0, 11], "nice": false, "zero": false},
          "axis": {"orient": "bottom", "title": null, "values": [0,1,2,3,4,5,6,7,8,9,10,11], "labelExpr": "datum.value % 2 == 0 ? '' + datum.value : ''", "tickSize": {"condition": {"test": "datum.value % 2 == 0", "value": 5}, "value": 3}, "labelPadding": 9}},
    "y": {"field": "I", "type": "quantitative", "scale": {"domain": [0, 250], "nice": false, "zero": false},
          "axis": {"orient": "left", "title": null, "minExtent": 100, "values": [0,25,50,75,100,125,150,175,200,225,250], "labelExpr": "datum.value % 50 == 0 ? '' + datum.value : ''", "tickSize": 5, "labelPadding": 6}}
   }},
  {"data": {"name": "p3_mod10"}, "mark": {"type": "line", "color": "#000", "strokeWidth": 4}, "encoding": {"x": {"field": "V", "type": "quantitative"}, "y": {"field": "I", "type": "quantitative"}}},
  {"data": {"name": "p3_ss10"}, "mark": {"type": "point", "shape": "triangle-up", "filled": true, "size": 100, "color": "#0000ff", "opacity": 1}, "encoding": {"x": {"field": "V", "type": "quantitative"}, "y": {"field": "I", "type": "quantitative"}}},
  {"data": {"name": "p3_med8"}, "mark": {"type": "point", "shape": "circle", "filled": false, "size": 121, "color": "#ff0000", "strokeWidth": 1, "opacity": 1}, "encoding": {"x": {"field": "V", "type": "quantitative"}, "y": {"field": "I", "type": "quantitative"}}},
  {"data": {"name": "p3_mod8"}, "mark": {"type": "line", "color": "#ff0000", "strokeWidth": 4}, "encoding": {"x": {"field": "V", "type": "quantitative"}, "y": {"field": "I", "type": "quantitative"}}},
  {"data": {"name": "p3_ss8"}, "mark": {"type": "point", "shape": "circle", "filled": true, "size": 64, "color": "#ff0000", "opacity": 1}, "encoding": {"x": {"field": "V", "type": "quantitative"}, "y": {"field": "I", "type": "quantitative"}}},
  {"data": {"name": "p3_med6"}, "mark": {"type": "point", "shape": "triangle-up", "filled": false, "size": 110, "color": "#0000ff", "strokeWidth": 1, "opacity": 1}, "encoding": {"x": {"field": "V", "type": "quantitative"}, "y": {"field": "I", "type": "quantitative"}}},
  {"data": {"name": "p3_mod6"}, "mark": {"type": "line", "color": "#0000ff", "strokeWidth": 4}, "encoding": {"x": {"field": "V", "type": "quantitative"}, "y": {"field": "I", "type": "quantitative"}}}
]
},
{
"layer": [
  {"data": {"values": [{}]}, "mark": {"type": "text", "align": "left", "baseline": "alphabetic", "fontSize": 21, "lineHeight": 25.8, "text": ["símbolos vacíos- medidas", "líneas - modeladas", "símbolos llenos- SmartSpice"]}, "encoding": {"x": {"datum": 0.12, "axis": null}, "y": {"datum": 223.3, "axis": null}}},
  {"data": {"values": [{}]}, "mark": {"type": "text", "align": "left", "baseline": "alphabetic", "fontSize": 21, "text": "V"}, "encoding": {"x": {"datum": 7.24, "axis": null}, "y": {"datum": 227.1, "axis": null}}},
  {"data": {"values": [{}]}, "mark": {"type": "text", "align": "left", "baseline": "alphabetic", "fontSize": 18, "dx": 13, "dy": 6, "text": "G"}, "encoding": {"x": {"datum": 7.24, "axis": null}, "y": {"datum": 227.1, "axis": null}}},
  {"data": {"values": [{}]}, "mark": {"type": "text", "align": "left", "baseline": "alphabetic", "fontSize": 21, "dx": 28, "text": "=10 V"}, "encoding": {"x": {"datum": 7.24, "axis": null}, "y": {"datum": 227.1, "axis": null}}},
  {"data": {"values": [{}]}, "mark": {"type": "text", "align": "left", "baseline": "alphabetic", "fontSize": 21, "text": "V"}, "encoding": {"x": {"datum": 8.15, "axis": null}, "y": {"datum": 153.8, "axis": null}}},
  {"data": {"values": [{}]}, "mark": {"type": "text", "align": "left", "baseline": "alphabetic", "fontSize": 18, "dx": 13, "dy": 6, "text": "G"}, "encoding": {"x": {"datum": 8.15, "axis": null}, "y": {"datum": 153.8, "axis": null}}},
  {"data": {"values": [{}]}, "mark": {"type": "text", "align": "left", "baseline": "alphabetic", "fontSize": 21, "dx": 28, "text": "=8 V"}, "encoding": {"x": {"datum": 8.15, "axis": null}, "y": {"datum": 153.8, "axis": null}}},
  {"data": {"values": [{}]}, "mark": {"type": "text", "align": "left", "baseline": "alphabetic", "fontSize": 21, "text": "V"}, "encoding": {"x": {"datum": 8.43, "axis": null}, "y": {"datum": 85, "axis": null}}},
  {"data": {"values": [{}]}, "mark": {"type": "text", "align": "left", "baseline": "alphabetic", "fontSize": 18, "dx": 13, "dy": 6, "text": "G"}, "encoding": {"x": {"datum": 8.43, "axis": null}, "y": {"datum": 85, "axis": null}}},
  {"data": {"values": [{}]}, "mark": {"type": "text", "align": "left", "baseline": "alphabetic", "fontSize": 21, "dx": 28, "text": "=6 V"}, "encoding": {"x": {"datum": 8.43, "axis": null}, "y": {"datum": 85, "axis": null}}},
  {"data": {"values": [{}]}, "mark": {"type": "text", "align": "left", "baseline": "alphabetic", "fontSize": 21, "text": "Dispositivo 1"}, "encoding": {"x": {"datum": 3.65, "axis": null}, "y": {"datum": 24.4, "axis": null}}},
  {"data": {"values": [{}]}, "mark": {"type": "text", "align": "left", "baseline": "alphabetic", "fontSize": 28, "text": "(c)"}, "encoding": {"x": {"datum": 8.37, "axis": null}, "y": {"datum": 16.1, "axis": null}}},
  {"data": {"values": [{}]}, "mark": {"type": "text", "align": "left", "baseline": "alphabetic", "fontSize": 21, "text": "V"}, "encoding": {"x": {"datum": 5.0, "axis": null}, "y": {"datum": -39.3, "axis": null}}},
  {"data": {"values": [{}]}, "mark": {"type": "text", "align": "left", "baseline": "alphabetic", "fontSize": 18, "dx": 14, "dy": 6, "text": "G"}, "encoding": {"x": {"datum": 5.0, "axis": null}, "y": {"datum": -39.3, "axis": null}}},
  {"data": {"values": [{}]}, "mark": {"type": "text", "align": "left", "baseline": "alphabetic", "fontSize": 21, "dx": 38, "text": "(V)"}, "encoding": {"x": {"datum": 5.0, "axis": null}, "y": {"datum": -39.3, "axis": null}}},
  {"data": {"values": [{}]}, "mark": {"type": "text", "angle": 270, "align": "left", "baseline": "alphabetic", "fontSize": 21, "text": "I"}, "encoding": {"x": {"datum": -1.26, "axis": null}, "y": {"datum": 96.4, "axis": null}}},
  {"data": {"values": [{}]}, "mark": {"type": "text", "angle": 270, "align": "left", "baseline": "alphabetic", "fontSize": 18, "dx": 7, "dy": 5, "text": "DS"}, "encoding": {"x": {"datum": -1.26, "axis": null}, "y": {"datum": 96.4, "axis": null}}},
  {"data": {"values": [{}]}, "mark": {"type": "text", "angle": 270, "align": "left", "baseline": "alphabetic", "fontSize": 21, "dx": 40, "text": "(µA)"}, "encoding": {"x": {"datum": -1.26, "axis": null}, "y": {"datum": 96.4, "axis": null}}}
]
},
{
  "data": {"name": "p3_ss6"},
  "mark": {"type": "point", "shape": "square", "filled": true, "size": 70, "color": "#000", "opacity": 1},
  "encoding": {
    "x": {"field": "V", "type": "quantitative", "scale": {"domain": [0, 11], "nice": false, "zero": false},
          "axis": {"orient": "top", "title": null, "labels": false, "minExtent": 23, "values": [0,1,2,3,4,5,6,7,8,9,10,11], "tickSize": {"condition": {"test": "datum.value % 2 == 0", "value": -5}, "value": -3}}},
    "y": {"field": "I", "type": "quantitative", "scale": {"domain": [0, 250], "nice": false, "zero": false},
          "axis": {"orient": "right", "title": null, "labels": false, "values": [0,25,50,75,100,125,150,175,200,225,250], "tickSize": -4}}
  }
}
],
"resolve": {"axis": {"x": "independent", "y": "independent"}}
}
]
}
